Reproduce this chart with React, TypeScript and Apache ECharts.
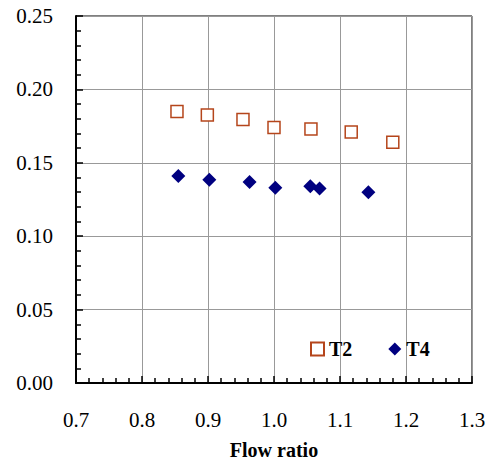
import React, { useEffect, useRef } from "react";
import * as echarts from "echarts";

const t2FlowRatio = [0.853, 0.899, 0.953, 1.0, 1.056, 1.117, 1.18];
const t2Values = [0.185, 0.1825, 0.1795, 0.174, 0.173, 0.171, 0.164];
const t4FlowRatio = [0.855, 0.902, 0.963, 1.002, 1.055, 1.069, 1.143];
const t4Values = [0.141, 0.1385, 0.137, 0.133, 0.134, 0.1325, 0.13];

const FONT = "Liberation Serif";

export default function App() {
  const ref = useRef<HTMLDivElement>(null);
  useEffect(() => {
    if (!ref.current) return;
    const chart = echarts.init(ref.current, null, { renderer: "svg" });
    const pair = (xs: number[], ys: number[]) => xs.map((x, i) => [x, ys[i]]);
    const labelStyle = (digits: number, margin: number) => ({
      fontFamily: FONT,
      fontSize: 21,
      color: "#000",
      margin,
      formatter: (v: number) => v.toFixed(digits),
    });
    chart.setOption({
      animation: false,
      backgroundColor: "#fff",
      textStyle: { fontFamily: FONT },
      grid: {
        left: 76,
        right: 13,
        top: 16,
        bottom: 80,
        show: true,
        borderColor: "#000",
        borderWidth: 1,
        outerBoundsMode: "none",
      },
      legend: {
        left: 310,
        top: 339,
        padding: 0,
        itemWidth: 13,
        itemHeight: 13,
        itemGap: 36,
        selectedMode: false,
        textStyle: { fontFamily: FONT, fontSize: 20, fontWeight: "bold", color: "#000" },
        data: ["T2", "T4"],
      },
      xAxis: {
        type: "value",
        min: 0.7,
        max: 1.3,
        interval: 0.1,
        name: "Flow ratio",
        nameLocation: "middle",
        nameGap: 57,
        nameTextStyle: { fontFamily: FONT, fontSize: 20, fontWeight: "bold", color: "#000" },
        axisLine: { show: true, lineStyle: { color: "#000", width: 2 } },
        axisTick: { show: true, inside: true, length: 7, lineStyle: { color: "#000", width: 1.5 } },
        minorTick: { show: true, splitNumber: 5, length: 5, lineStyle: { color: "#000", width: 1.5 } },
        splitLine: { show: true, lineStyle: { color: "#999", width: 1 } },
        axisLabel: labelStyle(1, 26),
      },
      yAxis: {
        type: "value",
        min: 0,
        max: 0.25,
        interval: 0.05,
        axisLine: { show: true, lineStyle: { color: "#000", width: 2 } },
        axisTick: { show: true, inside: true, length: 7, lineStyle: { color: "#000", width: 1.5 } },
        minorTick: { show: true, splitNumber: 5, length: 5, lineStyle: { color: "#000", width: 1.5 } },
        splitLine: { show: true, lineStyle: { color: "#999", width: 1 } },
        axisLabel: labelStyle(2, 23),
      },
      series: [
        {
          name: "T2",
          type: "scatter",
          symbol: "rect",
          symbolSize: 12,
          itemStyle: { color: "#fff", borderColor: "#b5451b", borderWidth: 1.5, opacity: 1 },
          data: pair(t2FlowRatio, t2Values),
        },
        {
          name: "T4",
          type: "scatter",
          symbol: "diamond",
          symbolSize: 14,
          itemStyle: { color: "#000080", opacity: 1 },
          data: pair(t4FlowRatio, t4Values),
        },
      ],
    });
    return () => chart.dispose();
  }, []);
  return (
    <div
      ref={ref}
      style={{ position: "fixed", left: 0, top: 0, width: 485, height: 463, background: "#fff" }}
    />
  );
}
